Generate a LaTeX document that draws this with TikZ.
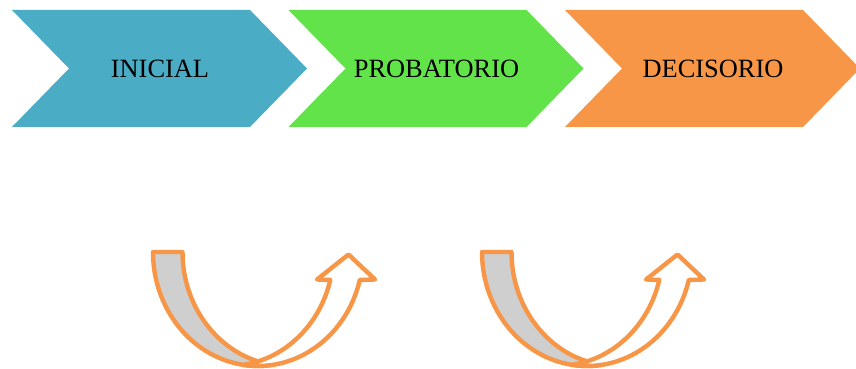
\documentclass[tikz,border=0pt]{standalone}
\usepackage{fontspec}
\setmainfont{Liberation Serif}
\definecolor{cblue}{HTML}{4BACC6}
\definecolor{cgreen}{HTML}{62E34A}
\definecolor{corange}{HTML}{F79646}
\definecolor{cgray}{HTML}{CFCFCF}
\tikzset{
  lbl/.style={font=\fontsize{26.4}{30}\selectfont, text=black, inner sep=0pt, anchor=center},
  uline/.style={draw=corange, line width=4.4pt, line join=round},
  back/.style={uline, fill=cgray},
  front/.style={uline, fill=white},
  uturn/.pic={
    \filldraw[back] (153,117)
      arc[start angle=180, end angle=278.08, x radius=105pt, y radius=114pt]
      arc[start angle=261.92, end angle=180, x radius=105pt, y radius=114pt]
      -- cycle;
    \filldraw[front] ([shift={(258,117)}]261.92:105pt and 114pt)
      arc[start angle=261.92, end angle=345.8, x radius=105pt, y radius=114pt]
      -- (375,89.5) -- (348.5,114.5) -- (317,89.5)
      -- ([shift={(228.5,117)}]345.8:105pt and 114pt)
      arc[start angle=345.8, end angle=278.08, x radius=105pt, y radius=114pt]
      -- cycle;
  }
}
\begin{document}
\begin{tikzpicture}[x=1pt,y=1pt]
\useasboundingbox (0,0) rectangle (856,369);
% chevrons
\fill[cblue]   (12,359) -- (250,359) -- (307,300.5) -- (250,242) -- (12,242) -- (69,300.5) -- cycle;
\fill[cgreen]  (288.5,359) -- (526.5,359) -- (583.5,300.5) -- (526.5,242) -- (288.5,242) -- (345.5,300.5) -- cycle;
\fill[corange] (565,359) -- (803,359) -- (860,300.5) -- (803,242) -- (565,242) -- (622,300.5) -- cycle;
\node[lbl] (inicial) at (160,300.5) {INICIAL};
\node[lbl] (probatorio) at (436.5,300.5) {PROBATORIO};
\node[lbl] (decisorio) at (713,300.5) {DECISORIO};
% u-turn arrows
\pic at (0,0) {uturn};
\pic at (329,0) {uturn};
\end{tikzpicture}
\end{document}
